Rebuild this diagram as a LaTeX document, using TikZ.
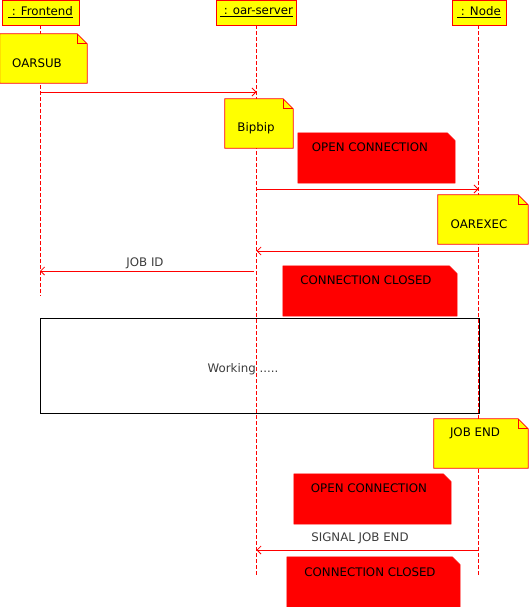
\documentclass[tikz,border=0pt]{standalone}
\usepackage{fontspec}
\setmainfont{DejaVu Sans}
\usetikzlibrary{arrows.meta}
\definecolor{nyellow}{RGB}{255,255,0}
\definecolor{nred}{RGB}{255,0,0}
\definecolor{lblgray}{RGB}{60,60,60}
\tikzset{
  every node/.style={font=\fontsize{11.8}{13}\selectfont, inner sep=0pt},
  header/.style={draw=nred, fill=nyellow, line width=0.8pt, minimum height=25pt},
  lifeline/.style={draw=nred, line width=0.8pt, dash pattern=on 4pt off 2pt},
  msg/.style={draw=nred, line width=0.8pt, -{Straight Barb[length=4pt,width=8pt]}},
  notearea/.style={draw=none, fill=none},
  ynote/.style={draw=nred, fill=nyellow, line width=0.8pt},
  rnote/.style={draw=nred, fill=nred, line width=0.5pt},
  notetext/.style={text=black},
  lbl/.style={text=lblgray},
  workbox/.style={draw=black, line width=1pt}
}
\newcommand\yellowfold[1]{%
  \draw[ynote] (#1.north west) -- ([xshift=-10pt]#1.north east) -- ([yshift=-10pt]#1.north east) -- (#1.south east) -- (#1.south west) -- cycle;
  \draw[draw=nred, line width=0.8pt] ([xshift=-10pt]#1.north east) -- ([xshift=-10pt,yshift=-10pt]#1.north east) -- ([yshift=-10pt]#1.north east);}
\newcommand\redfold[1]{%
  \draw[rnote] (#1.north west) -- ([xshift=-8pt]#1.north east) -- ([yshift=-8pt]#1.north east) -- (#1.south east) -- (#1.south west) -- cycle;}
\begin{document}
\begin{tikzpicture}[x=1pt,y=-1pt]
\useasboundingbox (0,0) rectangle (530,607);
% headers
\node[header, minimum width=77pt] (fe) at (40.5,12.5) {\underline{\ : Frontend}};
\node[header, minimum width=80pt] (srv) at (256.5,12.5) {\underline{\ : oar-server}};
\node[header, minimum width=54pt] (nd) at (479,12.5) {\underline{\ : Node}};
% lifeline ends
\coordinate (feend) at (40,296);
\coordinate (srvend) at (256.5,575);
\coordinate (ndend) at (478.5,575);
% working box
\node[workbox, minimum width=439pt, minimum height=95pt] (work) at (259.5,365.5) {};
\node[lbl] (worktxt) at (243,369) {Working .....};
% lifelines
\draw[lifeline] (fe.south -| feend) -- (feend);
\draw[lifeline] (srv.south -| srvend) -- (srvend);
\draw[lifeline] (nd.south -| ndend) -- (ndend);
% notes
\node[notearea, minimum width=87pt, minimum height=49pt] (oarsub) at (43.5,58.5) {};
\yellowfold{oarsub}
\node[notetext] (oarsubt) at (37,63) {OARSUB};
\node[notearea, minimum width=68pt, minimum height=49pt] (bip) at (259,123.5) {};
\yellowfold{bip}
\node[notetext] (bipt) at (256,128) {Bipbip};
\node[notearea, minimum width=157pt, minimum height=50pt] (oc1) at (376.5,158) {};
\redfold{oc1}
\node[notetext] (oc1t) at (370,147) {OPEN CONNECTION};
\node[notearea, minimum width=90pt, minimum height=49pt] (oarexec) at (483,219.5) {};
\yellowfold{oarexec}
\node[notetext] (oarexect) at (479,224) {OAREXEC};
\node[notearea, minimum width=174pt, minimum height=50pt] (cc1) at (370,291) {};
\redfold{cc1}
\node[notetext] (cc1t) at (366,280) {CONNECTION CLOSED};
\node[notearea, minimum width=94pt, minimum height=49pt] (jobend) at (481,443.5) {};
\yellowfold{jobend}
\node[notetext] (jobendt) at (475,433) {JOB END};
\node[notearea, minimum width=157pt, minimum height=50pt] (oc2) at (372.5,499) {};
\redfold{oc2}
\node[notetext] (oc2t) at (369,488) {OPEN CONNECTION};
\node[notearea, minimum width=173pt, minimum height=50pt] (cc2) at (373.5,582) {};
\redfold{cc2}
\node[notetext] (cc2t) at (370,572) {CONNECTION CLOSED};
% messages
\coordinate (m1a) at (40,92);   \coordinate (m1b) at (256.5,92);
\draw[msg] (m1a) -- (m1b);
\coordinate (m2a) at (256.5,189); \coordinate (m2b) at (478.5,189);
\draw[msg] (m2a) -- (m2b);
\coordinate (m3a) at (478.5,251); \coordinate (m3b) at (256.5,251);
\draw[msg] (m3a) -- (m3b);
\coordinate (m4a) at (254,271); \coordinate (m4b) at (40,271);
\draw[msg] (m4a) -- (m4b);
\node[lbl] (m4t) at (145,263) {JOB ID};
\coordinate (m5a) at (478.5,550); \coordinate (m5b) at (256.5,550);
\draw[msg] (m5a) -- (m5b);
\node[lbl] (m5t) at (360,538) {SIGNAL JOB END};
\end{tikzpicture}
\end{document}
